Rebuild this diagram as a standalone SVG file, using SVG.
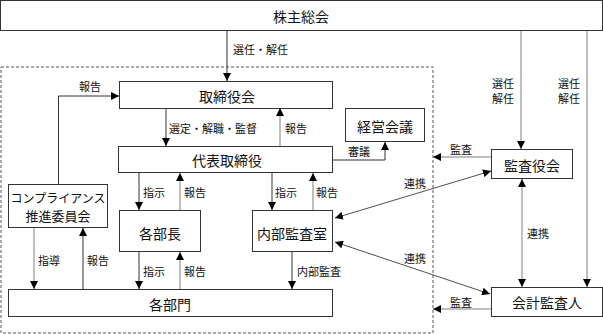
<svg xmlns="http://www.w3.org/2000/svg" width="603" height="334" viewBox="0 0 603 334">
<style>
.box{fill:#fff;stroke:#333;stroke-width:1}
.t{font-family:"Noto Sans CJK JP","Noto Sans",sans-serif;font-size:14px;fill:#111;text-anchor:middle;dominant-baseline:central}
.l{font-family:"Noto Sans CJK JP","Noto Sans",sans-serif;font-size:11px;fill:#111;dominant-baseline:central}
.c{fill:none;stroke:#333;stroke-width:1}
.g{fill:none;stroke:#aaa;stroke-width:1.5}
.d{fill:none;stroke:#222;stroke-width:0.8}
</style>
<defs>
<marker id="a" markerUnits="userSpaceOnUse" markerWidth="8" markerHeight="8" refX="8" refY="4" orient="auto-start-reverse" viewBox="0 0 8 8"><path d="M0,0 L8,4 L0,8 z" fill="#000"/></marker>
</defs>
<rect x="1" y="67" width="432" height="266" fill="none" stroke="#555" stroke-width="1" stroke-dasharray="3,2"/>
<g id="connectors">
<path class="c" d="M227,31 V81" marker-end="url(#a)"/>
<path class="c" d="M58.5,184 V96 H119" marker-end="url(#a)"/>
<path class="c" d="M166,108 V146" marker-end="url(#a)"/>
<path class="g" d="M280,146 V108" marker-end="url(#a)"/>
<path class="c" d="M333,160 H385 V142" marker-end="url(#a)"/>
<path class="c" d="M139,173 V210" marker-end="url(#a)"/>
<path class="g" d="M180,210 V173" marker-end="url(#a)"/>
<path class="c" d="M272,173 V210" marker-end="url(#a)"/>
<path class="g" d="M313,210 V173" marker-end="url(#a)"/>
<path class="c" d="M139,252 V289" marker-end="url(#a)"/>
<path class="g" d="M180,289 V252" marker-end="url(#a)"/>
<path class="c" d="M292,252 V289" marker-end="url(#a)"/>
<path class="g" d="M34,228 V289" marker-end="url(#a)"/>
<path class="c" d="M83,289 V228" marker-end="url(#a)"/>
<path class="g" d="M491,157 H433" marker-end="url(#a)"/>
<path class="g" d="M491,309 H433" marker-end="url(#a)"/>
<path class="g" d="M521,31 V149" marker-end="url(#a)"/>
<path class="g" d="M587,31 V287" marker-end="url(#a)"/>
<path class="g" d="M522,179 V287" marker-start="url(#a)" marker-end="url(#a)"/>
<path class="d" d="M335,218 L491,171" marker-start="url(#a)" marker-end="url(#a)"/>
<path class="d" d="M335,242 L490,294" marker-start="url(#a)" marker-end="url(#a)"/>
</g>
<g id="labels">
<text class="l" x="233" y="49">選任・解任</text>
<text class="l" x="79" y="86">報告</text>
<text class="l" x="492" y="83">選任</text>
<text class="l" x="492" y="98">解任</text>
<text class="l" x="558" y="83">選任</text>
<text class="l" x="558" y="98">解任</text>
<text class="l" x="169" y="128">選定・解職・監督</text>
<text class="l" x="285" y="128">報告</text>
<text class="l" x="348" y="151">審議</text>
<text class="l" x="450" y="149">監査</text>
<text class="l" x="143" y="192">指示</text>
<text class="l" x="184" y="192">報告</text>
<text class="l" x="275" y="192">指示</text>
<text class="l" x="316" y="192">報告</text>
<text class="l" x="404" y="183">連携</text>
<text class="l" x="527" y="233">連携</text>
<text class="l" x="404" y="258">連携</text>
<text class="l" x="38" y="260">指導</text>
<text class="l" x="87" y="260">報告</text>
<text class="l" x="143" y="271">指示</text>
<text class="l" x="184" y="271">報告</text>
<text class="l" x="297" y="271">内部監査</text>
<text class="l" x="450" y="302">監査</text>
</g>
<g id="kabunushi"><rect class="box" x="0.5" y="0.5" width="602" height="30"/><text class="t" x="301" y="16">株主総会</text></g>
<g id="torishimariyakukai"><rect class="box" x="119.5" y="81.5" width="213" height="27"/><text class="t" x="227" y="96">取締役会</text></g>
<g id="keiei"><rect class="box" x="345.5" y="108.5" width="79" height="33"/><text class="t" x="385" y="126">経営会議</text></g>
<g id="daihyo"><rect class="box" x="118.5" y="146.5" width="214" height="26"/><text class="t" x="227" y="160">代表取締役</text></g>
<g id="kansayakukai"><rect class="box" x="491.5" y="149.5" width="81" height="29"/><text class="t" x="532" y="165">監査役会</text></g>
<g id="compliance"><rect class="box" x="8.5" y="184.5" width="99" height="43"/><text class="t" x="58" y="197" style="font-size:12px">コンプライアンス</text><text class="t" x="58" y="215" style="font-size:13px">推進委員会</text></g>
<g id="kakubucho"><rect class="box" x="119.5" y="210.5" width="81" height="41"/><text class="t" x="160" y="233">各部長</text></g>
<g id="naibukansa"><rect class="box" x="252.5" y="210.5" width="80" height="41"/><text class="t" x="292" y="233">内部監査室</text></g>
<g id="kakubumon"><rect class="box" x="8.5" y="289.5" width="324" height="27"/><text class="t" x="170" y="304">各部門</text></g>
<g id="kaikei"><rect class="box" x="491.5" y="287.5" width="111" height="29"/><text class="t" x="547" y="302">会計監査人</text></g>
</svg>
